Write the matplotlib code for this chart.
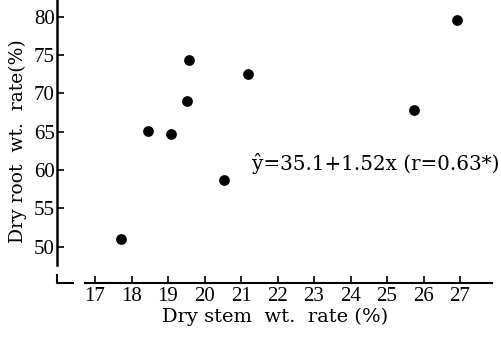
import matplotlib
matplotlib.use("Agg")
import matplotlib.pyplot as plt
from matplotlib.lines import Line2D

plt.rcParams['font.family'] = ['Liberation Serif', 'DejaVu Serif']

stem_rate = [17.71, 18.46, 19.08, 19.52, 19.58, 20.53, 21.20, 25.73, 26.93]
root_rate = [51.0, 65.1, 64.7, 69.0, 74.4, 58.7, 72.5, 67.8, 79.6]
x_ticks = [17, 18, 19, 20, 21, 22, 23, 24, 25, 26, 27]
y_ticks = [50, 55, 60, 65, 70, 75, 80]
equation = "ŷ=35.1+1.52x (r=0.63*)"

W, H = 502, 338
fig = plt.figure(figsize=(W / 100, H / 100), dpi=100)
# axes pixel box: left 57.5, right 492, top 0, bottom 283
ax = fig.add_axes([57.5 / W, (H - 283) / H, (492 - 57.5) / W, 283 / H])

xpx = 36.5   # px per unit x
ypx = 7.667  # px per unit y
x0 = 17 + (57.5 - 95) / xpx
x1 = 17 + (492 - 95) / xpx
y0 = 50 - (283 - 246.7) / ypx
y1 = 50 + 246.7 / ypx
ax.set_xlim(x0, x1)
ax.set_ylim(y0, y1)

ax.scatter(stem_rate, root_rate, s=60, color='black', zorder=3, linewidths=0)

for s in ['top', 'right']:
    ax.spines[s].set_visible(False)
ax.spines['left'].set_linewidth(1.8)
ax.spines['bottom'].set_linewidth(1.5)
ax.spines['left'].set_bounds(50 - (265 - 246.7) / ypx, y1)
ax.spines['bottom'].set_bounds(17 + (85 - 95) / xpx, x1)

ax.set_xticks(x_ticks)
ax.set_yticks(y_ticks)
ax.tick_params(axis='both', direction='in', length=5, width=1.2, labelsize=15)
ax.tick_params(axis='x', pad=3)
ax.tick_params(axis='y', pad=2)

# broken-axis corner mark
fig.add_artist(Line2D([57.5 / W, 57.5 / W, 73 / W],
                      [(H - 275) / H, (H - 283) / H, (H - 283) / H],
                      color='black', lw=1.5))

ax.set_xlabel("Dry stem  wt.  rate (%)", fontsize=14, labelpad=1,
              family=['DejaVu Serif'])
ax.set_ylabel("Dry root  wt.  rate(%)", fontsize=13.5, labelpad=5,
              family=['DejaVu Serif'])

ax.text(252 / W, (H - 163) / H, equation, transform=fig.transFigure,
        fontsize=14.3, va='center', ha='left', family=['DejaVu Serif'])

fig.savefig("out.png", dpi=100)
